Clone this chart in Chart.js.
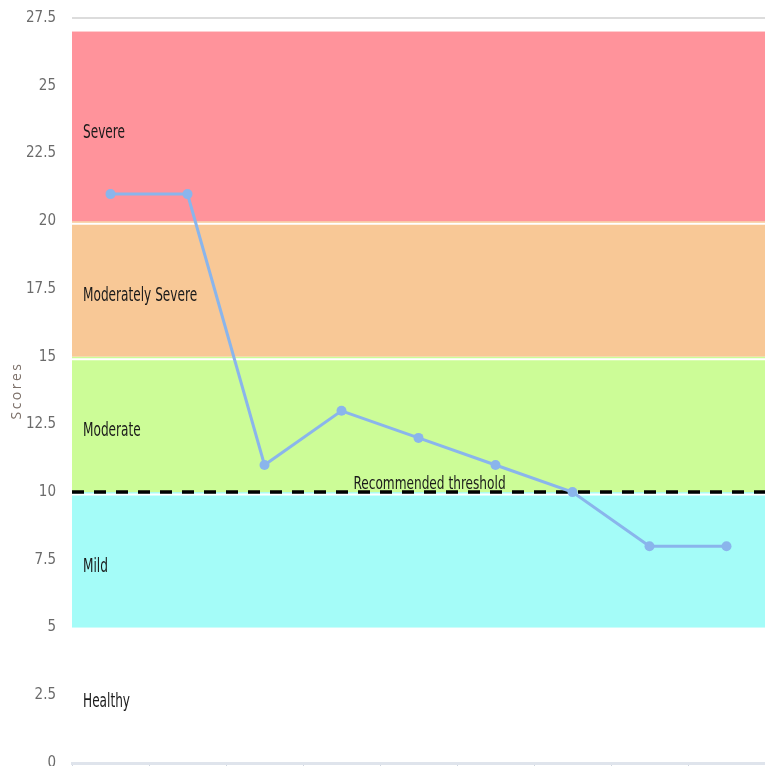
<!DOCTYPE html>
<html>
<head>
<meta charset="utf-8">
<script src="https://cdn.jsdelivr.net/npm/chart.js@4"></script>
<style>
  html, body { margin: 0; padding: 0; overflow: hidden; background: #fff; }
  canvas { display: block; margin-top: -7px; }
</style>
</head>
<body>
<canvas id="scoreChart" width="770" height="795"></canvas>
<script>
// Assessment visits and their total scores
const categories = ['Visit 1', 'Visit 2', 'Visit 3', 'Visit 4', 'Visit 5', 'Visit 6', 'Visit 7', 'Visit 8', 'Visit 9'];
const scores = [21, 21, 11, 13, 12, 11, 10, 8, 8];

// Severity bands (lower / upper score of each band)
const bandNames = ['Healthy', 'Mild', 'Moderate', 'Moderately Severe', 'Severe'];
const bandLower = [0, 5, 10, 15, 20];
const bandUpper = [5, 10, 15, 20, 27];

// Y axis range and step
const yMin = 0;
const yMax = 27.5;
const yStep = 2.5;

// Threshold marker
const threshold = 10;
const thresholdLabel = 'Recommended threshold';

// Styling
const bandColors = [null, '#a4fcf8', '#ccfc97', '#f8c896', '#ff939b'];
const narrowFont = "'Liberation Sans Narrow', 'DejaVu Sans Condensed', 'Arial Narrow', sans-serif";
const lineColor = '#8ab5ec';

function drawScaledText(ctx, text, x, y, sx, font, color, align) {
  ctx.save();
  ctx.font = font;
  ctx.fillStyle = color;
  ctx.textAlign = align || 'left';
  ctx.textBaseline = 'alphabetic';
  ctx.translate(x, y);
  ctx.scale(sx, 1);
  ctx.fillText(text, 0, 0);
  ctx.restore();
}

const severityBands = {
  id: 'severityBands',
  beforeDatasetsDraw(chart) {
    const { ctx, chartArea: area, scales: { y } } = chart;
    ctx.save();
    // coloured bands
    bandNames.forEach((name, i) => {
      if (!bandColors[i]) return;
      const top = y.getPixelForValue(bandUpper[i]);
      const bottom = y.getPixelForValue(bandLower[i]);
      ctx.fillStyle = bandColors[i];
      ctx.fillRect(area.left, top, area.right - area.left, bottom - top);
    });
    // thin white separators between bands
    ctx.strokeStyle = '#ffffff';
    ctx.lineWidth = 2;
    bandLower.forEach((v, i) => {
      if (i < 2) return;
      const py = y.getPixelForValue(v) + 2.5;
      ctx.beginPath();
      ctx.moveTo(area.left, py);
      ctx.lineTo(area.right, py);
      ctx.stroke();
    });
    // band names
    bandNames.forEach((name, i) => {
      const mid = (bandLower[i] + bandUpper[i]) / 2;
      const py = y.getPixelForValue(mid) + 12;
      drawScaledText(ctx, name, area.left + 11, py, 0.71, '19px ' + narrowFont, '#1a1a1a', 'left');
    });
    // dashed threshold line
    const ty = y.getPixelForValue(threshold);
    ctx.strokeStyle = '#000000';
    ctx.lineWidth = 3.5;
    ctx.setLineDash([12, 10]);
    ctx.beginPath();
    ctx.moveTo(area.left, ty);
    ctx.lineTo(area.right, ty);
    ctx.stroke();
    ctx.setLineDash([]);
    const cx = (area.left + area.right) / 2 + 11;
    drawScaledText(ctx, thresholdLabel, cx, ty - 3.5, 0.75, '18px ' + narrowFont, '#1a1a1a', 'center');
    ctx.restore();
  },
  afterDraw(chart) {
    const { ctx, chartArea: area } = chart;
    ctx.save();
    ctx.translate(17, (area.top + area.bottom) / 2);
    ctx.rotate(-Math.PI / 2);
    ctx.font = "14px 'Open Sans', sans-serif";
    ctx.letterSpacing = '2.5px';
    ctx.fillStyle = '#7d716a';
    ctx.textAlign = 'center';
    ctx.textBaseline = 'middle';
    ctx.fillText('Scores', 0, 0);
    ctx.restore();
  }
};

new Chart(document.getElementById('scoreChart'), {
  type: 'line',
  data: {
    labels: categories,
    datasets: [{
      label: 'Score',
      data: scores,
      borderColor: lineColor,
      backgroundColor: lineColor,
      borderWidth: 3,
      pointRadius: 5,
      pointBorderWidth: 0,
      pointBackgroundColor: lineColor,
      tension: 0,
      fill: false
    }]
  },
  options: {
    responsive: false,
    devicePixelRatio: 1,
    animation: false,
    layout: { padding: { top: 9, right: 0, bottom: 0, left: 0 } },
    plugins: { legend: { display: false }, tooltip: { enabled: false } },
    scales: {
      x: {
        offset: true,
        ticks: { display: false },
        grid: { offset: true, drawOnChartArea: false, color: '#cfd6e0', tickLength: 8 },
        border: { color: '#dfe4ec', width: 3 },
        afterFit(scale) { scale.height = 4; }
      },
      y: {
        min: yMin,
        max: yMax,
        ticks: {
          stepSize: yStep,
          padding: 16,
          color: '#6b6b6b',
          font: { family: narrowFont, size: 15 }
        },
        grid: {
          drawTicks: false,
          lineWidth: 2,
          color: (c) => (c.tick && c.tick.value === yMax ? '#dcdcdc' : 'rgba(0,0,0,0)')
        },
        border: { display: false },
        afterFit(scale) { scale.width = 72; }
      }
    }
  },
  plugins: [severityBands]
});
</script>
</body>
</html>
